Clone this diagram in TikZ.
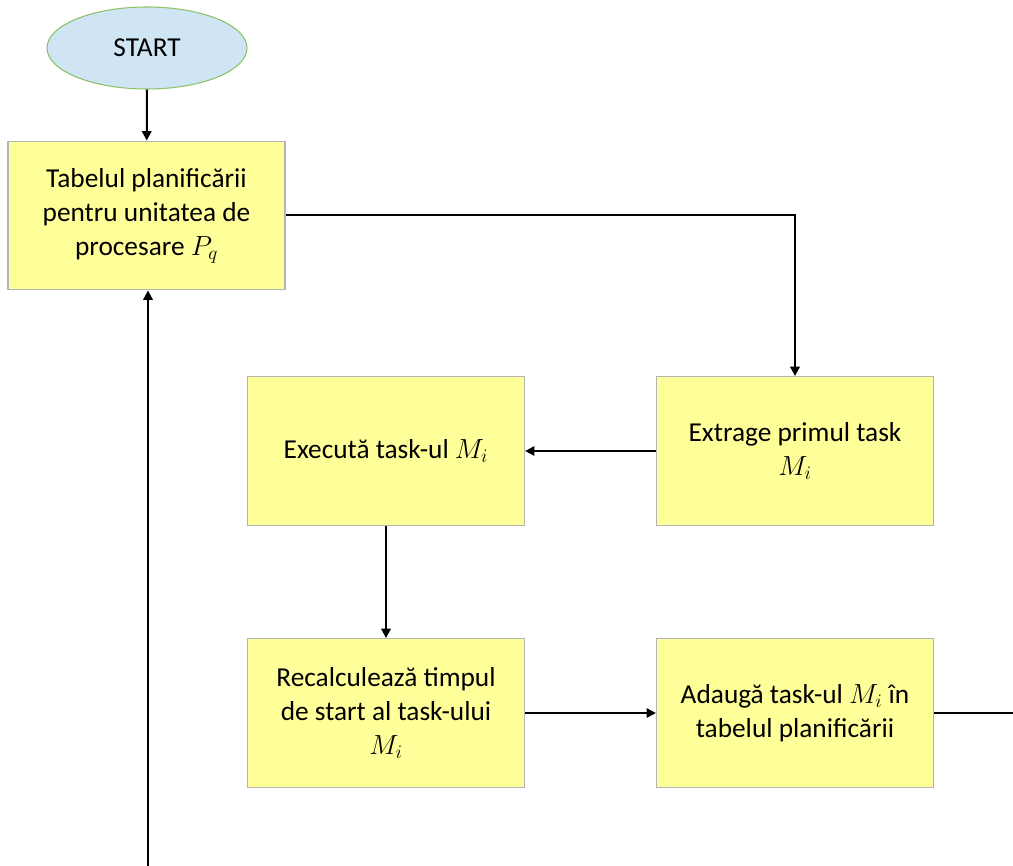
\documentclass[tikz,border=0pt]{standalone}
\usepackage{fontspec}
\setmainfont{Carlito}
\usetikzlibrary{arrows.meta,shapes.geometric}
\definecolor{boxfill}{HTML}{FFFF99}
\definecolor{boxline}{HTML}{B4B4B4}
\definecolor{ellfill}{HTML}{D0E5F3}
\definecolor{ellline}{HTML}{8CC16A}
\tikzset{
  procbox/.style={draw=boxline, line width=0.9pt, fill=boxfill, minimum width=207.75pt, minimum height=111.5pt, align=center, inner sep=0pt, font=\fontsize{20.5}{25.5}\selectfont},
  startell/.style={ellipse, draw=ellline, line width=0.8pt, fill=ellfill, minimum width=150pt, minimum height=61.5pt, inner sep=0pt, font=\fontsize{20.5}{24}\selectfont},
  conn/.style={line width=1.5pt, -{Triangle[length=7pt,width=7pt]}},
  plain/.style={line width=1.5pt}
}
\begin{document}
\begin{tikzpicture}[x=0.75pt,y=-0.75pt]
\useasboundingbox (0,0) rectangle (1013,866);
\node[startell] (start) at (147,48) {START};
\node[procbox] (tab) at (146.5,215.5) {Tabelul planificării\\pentru unitatea de\\procesare $P_q$};
\node[procbox] (exec) at (386,451) {Execută task-ul $M_i$};
\node[procbox] (extr) at (795,451) {Extrage primul task\\$M_i$};
\node[procbox] (recalc) at (386,713) {Recalculează timpul\\de start al task-ului\\$M_i$};
\node[procbox] (adauga) at (795,713) {Adaugă task-ul $M_i$ în\\tabelul planificării};
\coordinate (bot) at (148,866);
\coordinate (rend) at (1013,713);
\draw[conn] (start) -- (tab);
\draw[conn] (tab.east) -| (extr.north);
\draw[conn] (extr) -- (exec);
\draw[conn] (exec) -- (recalc);
\draw[conn] (recalc) -- (adauga);
\draw[plain] (adauga.east) -- (rend);
\draw[conn] (bot) -- (bot |- tab.south);
\end{tikzpicture}
\end{document}
